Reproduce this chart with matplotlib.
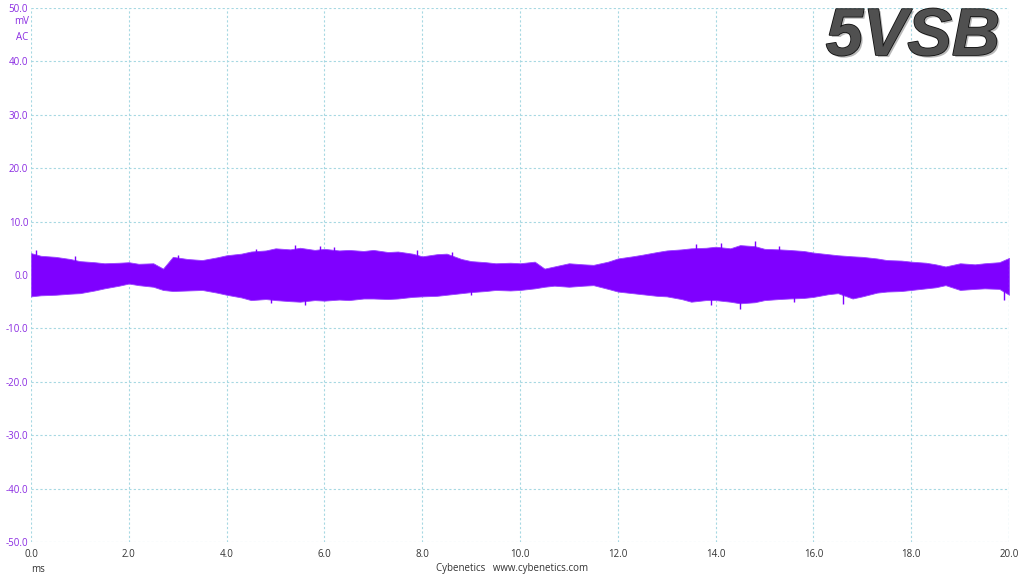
import matplotlib
matplotlib.use("Agg")
import matplotlib.pyplot as plt
import matplotlib.patheffects as pe

# envelope of the ripple trace (mV)
time_ms = [0.0, 0.2, 0.5, 0.8, 1.0, 1.3, 1.5, 1.8, 2.0, 2.2, 2.5, 2.7, 2.9,
           3.2, 3.5, 3.8, 4.0, 4.3, 4.5, 4.8, 5.0, 5.3, 5.5, 5.8, 6.0, 6.3,
           6.5, 6.8, 7.0, 7.3, 7.5, 7.8, 8.0, 8.3, 8.5, 8.8, 9.0, 9.3,
           9.5, 9.8, 10.0, 10.3, 10.5, 10.7, 11.0, 11.3, 11.5, 11.8, 12.0,
           12.3, 12.5, 12.8, 13.0, 13.3, 13.5, 13.8, 14.0, 14.3, 14.5, 14.8,
           15.0, 15.3, 15.5, 15.8, 16.0, 16.3, 16.5, 16.8, 17.0, 17.3, 17.5,
           17.8, 18.0, 18.3, 18.5, 18.7, 19.0, 19.3, 19.5, 19.8, 20.0]
upper_mv = [4.1, 3.6, 3.4, 3.0, 2.6, 2.4, 2.2, 2.3, 2.4, 2.1, 2.2, 1.2, 3.4,
            3.0, 2.8, 3.3, 3.7, 4.0, 4.4, 4.6, 5.0, 4.8, 5.1, 4.7, 4.9, 4.6,
            4.7, 4.5, 4.7, 4.3, 4.4, 4.0, 3.5, 3.9, 4.0, 3.0, 2.6, 2.4,
            2.2, 2.3, 2.2, 2.5, 1.2, 1.6, 2.2, 2.0, 1.9, 2.5, 3.1,
            3.5, 3.8, 4.3, 4.6, 4.8, 5.0, 5.1, 5.3, 5.0, 5.6, 5.4,
            4.9, 4.8, 4.7, 4.5, 4.2, 3.9, 3.7, 3.5, 3.4, 3.1, 2.8,
            2.7, 2.5, 2.3, 2.0, 1.6, 2.2, 2.0, 2.2, 2.4, 3.2]
lower_mv = [-4.0, -3.8, -3.7, -3.5, -3.4, -2.9, -2.5, -2.0, -1.6, -1.9, -2.2, -2.8, -3.0,
            -2.9, -2.8, -3.3, -3.7, -4.2, -4.7, -4.5, -4.7, -4.9, -5.0, -4.7, -4.8, -4.6,
            -4.7, -4.4, -4.4, -4.5, -4.4, -4.1, -4.0, -3.9, -3.7, -3.4, -3.2, -3.0,
            -2.8, -2.9, -2.8, -2.5, -2.2, -2.0, -2.2, -2.0, -1.9, -2.6, -3.1,
            -3.4, -3.6, -3.9, -4.0, -4.5, -5.0, -4.7, -4.7, -5.0, -5.3, -5.1,
            -4.7, -4.5, -4.4, -4.3, -4.1, -3.6, -3.4, -4.4, -4.0, -3.3, -3.1,
            -3.0, -2.8, -2.5, -2.3, -1.9, -2.8, -2.6, -2.5, -2.6, -3.7]

# isolated spikes poking out of the band (time ms, mV)
spike_t = [0.1, 0.9, 3.0, 4.6, 5.4, 5.9, 6.2, 7.9, 8.6, 13.6, 14.1, 14.8, 15.3,
           4.9, 5.6, 9.0, 13.9, 14.5, 15.6, 16.6, 19.9]
spike_v = [4.6, 3.6, 3.7, 4.9, 5.7, 5.4, 5.3, 4.6, 4.3, 5.8, 6.0, 6.3, 5.5,
           -5.3, -5.6, -3.8, -5.6, -6.3, -5.0, -5.5, -4.6]

x_ticks = [0, 2, 4, 6, 8, 10, 12, 14, 16, 18, 20]
y_ticks = [-50, -40, -30, -20, -10, 0, 10, 20, 30, 40, 50]

trace_color = "#7f00ff"
label_purple = "#8a2be2"
grid_color = "#a6d8e2"

plt.rcParams["font.family"] = ["Open Sans", "DejaVu Sans"]

fig = plt.figure(figsize=(10.24, 5.76), dpi=100)
ax = fig.add_axes([0.0303, 0.059, 0.9551, 0.9271])

ax.fill_between(time_ms, lower_mv, upper_mv, color=trace_color,
                linewidth=0.6, edgecolor="#9a45ff")
ax.vlines(spike_t, 0, spike_v, color=trace_color, linewidth=1.0)

ax.set_xlim(0, 20)
ax.set_ylim(-50, 50)
ax.set_xticks(x_ticks)
ax.set_yticks(y_ticks)
ax.set_xticklabels([f"{v:.1f}" for v in x_ticks], color="#333333", fontsize=7)
ax.set_yticklabels([f"{v:.1f}" for v in y_ticks], color=label_purple, fontsize=7)
ax.tick_params(axis="y", length=0, pad=2)
ax.tick_params(axis="x", length=0, pad=5)
ax.grid(True, color=grid_color, linestyle=(0, (2, 2)), linewidth=0.8)
for s in ax.spines.values():
    s.set_visible(False)
ax.axvline(20, color=grid_color, linestyle=(0, (2, 2)), linewidth=0.8)
ax.set_axisbelow(True)

fig.text(29 / 1024, 1 - 22 / 576, "mV", color=label_purple, fontsize=7,
         ha="right", va="center")
fig.text(28 / 1024, 1 - 37 / 576, "AC", color=label_purple, fontsize=7,
         ha="right", va="center")
fig.text(38 / 1024, 1 - 570 / 576, "ms", color="#333333", fontsize=7,
         ha="center", va="center")
fig.text(512 / 1024, 1 - 569 / 576, "Cybenetics   www.cybenetics.com",
         color="#333333", fontsize=7, ha="center", va="center")

fig.text(1000 / 1024, 1 - 38 / 576, "5VSB", family="Liberation Sans",
         fontsize=48, fontweight="bold", fontstyle="italic", color="#505050",
         ha="right", va="center",
         path_effects=[pe.withSimplePatchShadow(offset=(1.5, -1.5), alpha=0.3),
                       pe.withStroke(linewidth=1.2, foreground="#111111")])

fig.savefig("out.png", dpi=100)
